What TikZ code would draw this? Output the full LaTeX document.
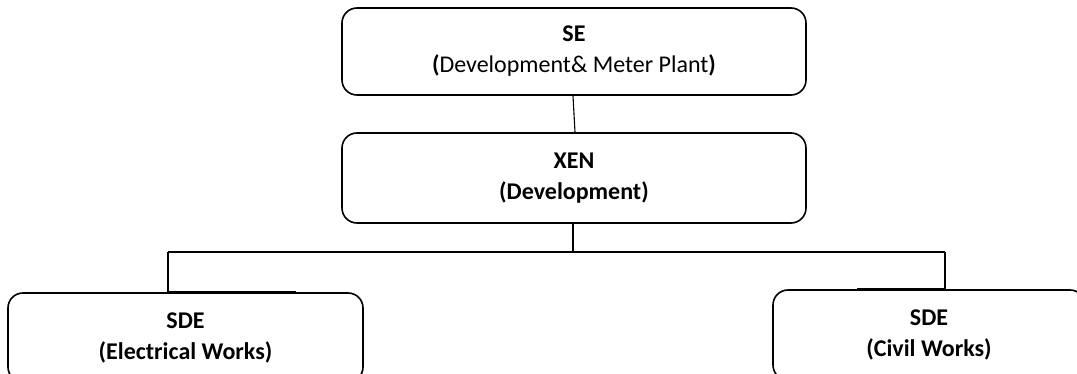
\documentclass[tikz,border=0pt]{standalone}
\usepackage{fontspec}
\setmainfont{Carlito}
\begin{document}
\begin{tikzpicture}[x=1pt,y=-1pt,
  orgbox/.style={draw=black, line width=1.6pt, rounded corners=15pt, inner sep=0pt,
    align=center, font=\fontsize{24}{31}\selectfont},
  link/.style={draw=black, line width=1.1pt},
  seam/.style={draw=black, line width=2pt}]
\useasboundingbox (0,0) rectangle (1077,374);
\begin{scope}
\clip (0,0) rectangle (1077,374);
% boxes of the organisation chart
\node[orgbox, minimum width=464pt, minimum height=87pt] (se) at (574,51.5)
  {\textbf{SE}\\\textbf{(}Development\& Meter Plant\textbf{)}};
\node[orgbox, minimum width=464pt, minimum height=90pt] (xen) at (574,178)
  {\textbf{XEN}\\\textbf{(Development)}};
\node[orgbox, minimum width=355pt, minimum height=89pt] (sdel) at (185.5,337.5)
  {\textbf{SDE}\\\textbf{(Electrical Works)}};
\node[orgbox, minimum width=312pt, minimum height=90pt] (sder) at (929,335)
  {\textbf{SDE}\\\textbf{(Civil Works)}};
\end{scope}
% connectors
\coordinate (bus) at (573,252);
\coordinate (jl) at (168,252);
\coordinate (jr) at (945,252);
\draw[link] ([xshift=-1pt]se.south) -- ([xshift=1pt]xen.south |- xen.north);
\draw[link] (bus |- xen.south) -- (bus);
\draw[link] (jl) -- (jr);
\draw[link] (jl) -- (jl |- sdel.north);
\draw[link] (jr) -- (jr |- sder.north);
% short joins along the tops of the lower boxes
\coordinate (tl) at (296,0);
\coordinate (tr) at (857,0);
\draw[seam] (jl |- sdel.north) -- (tl |- sdel.north);
\draw[seam] (jr |- sder.north) -- (tr |- sder.north);
\end{tikzpicture}
\end{document}
